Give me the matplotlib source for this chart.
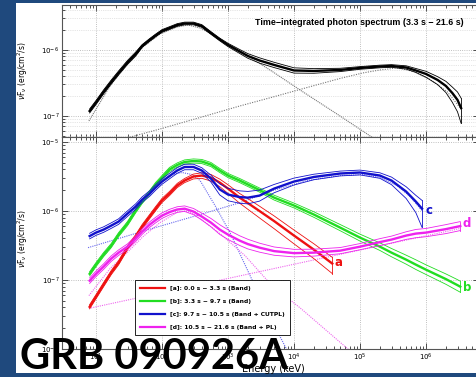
'''
GRB 090926A - nuFnu spectra (time integrated + time resolved)
'''

# imports
import numpy as np
import matplotlib
matplotlib.use('Agg')
import matplotlib.pyplot as plt
from matplotlib.patches import Rectangle

# ___Step 1___: values (energy in keV, nuFnu in erg/cm2/s)

# top panel: time-integrated fit
e_int = [8, 10, 13, 17, 22, 30, 40, 50, 65, 80, 100, 130, 170, 220, 300, 400, 550, 750,
         1e3, 1.5e3, 2e3, 3e3, 5e3, 1e4, 2e4, 5e4, 1e5, 2e5, 3e5, 5e5, 7e5,
         1e6, 1.5e6, 2e6, 2.5e6, 3e6, 3.4e6]
f_int = [1.19e-7, 1.60e-7, 2.31e-7, 3.27e-7, 4.49e-7, 6.47e-7, 8.69e-7, 1.15e-6, 1.42e-6,
         1.66e-6, 1.94e-6, 2.15e-6, 2.39e-6, 2.52e-6, 2.52e-6, 2.31e-6, 1.81e-6, 1.44e-6,
         1.19e-6, 9.49e-7, 8.11e-7, 6.93e-7, 5.93e-7, 4.89e-7, 4.81e-7, 4.98e-7, 5.34e-7,
         5.62e-7, 5.72e-7, 5.43e-7, 4.89e-7, 4.33e-7, 3.51e-7, 2.85e-7, 2.23e-7, 1.75e-7, 1.32e-7]
# width of the error contour (dex above / below)
int_hi = [0.03]*7 + [0.02]*11 + [0.025, 0.03, 0.035, 0.04, 0.04, 0.04, 0.035, 0.025, 0.02,
          0.02, 0.02, 0.025, 0.03, 0.04, 0.05, 0.07, 0.09, 0.12, 0.15]
int_lo = [0.03]*7 + [0.02]*11 + [0.025, 0.03, 0.035, 0.04, 0.04, 0.04, 0.035, 0.025, 0.02,
          0.02, 0.02, 0.025, 0.03, 0.05, 0.07, 0.1, 0.14, 0.18, 0.23]

# components of the time-integrated fit
int_band_e = [7.8, 16.3, 29.5, 51.5, 93.3, 169, 248, 377, 681, 1000, 1520, 4810, 1.23e4,
              4.97e4, 1.42e5, 2.39e5]
int_band_f = [8.4e-8, 2.85e-7, 6.14e-7, 1.11e-6, 1.75e-6, 2.23e-6, 2.39e-6, 2.15e-6, 1.57e-6,
              1.23e-6, 9.66e-7, 4.64e-7, 2.48e-7, 1.0e-7, 4.98e-8, 3.5e-8]
int_pl_e = [27.5, 93.3, 377, 1520, 4810, 1.23e4, 4.97e4, 1.11e5, 2.01e5, 3.64e5, 6.58e5,
            1.15e6, 2.08e6, 3.39e6]
int_pl_f = [4.56e-8, 6.35e-8, 9.48e-8, 1.42e-7, 1.94e-7, 2.52e-7, 3.70e-7, 4.49e-7, 4.98e-7,
            5.34e-7, 4.72e-7, 3.57e-7, 2.35e-7, 1.28e-7]

# bottom panel: time-resolved fits
e_base = [8, 10, 13, 17, 22, 30, 40, 50, 65, 80, 100, 130, 170, 220, 300, 400, 550, 750,
          1e3, 1.5e3, 2e3, 3e3, 5e3, 1e4, 2e4]

# [a] 0.0 s - 3.3 s (Band)
e_a = e_base + [3.8e4]
f_a = [4.09e-8, 5.73e-8, 8.55e-8, 1.28e-7, 1.78e-7, 2.94e-7, 4.25e-7, 5.94e-7, 8.30e-7,
       1.08e-6, 1.42e-6, 1.79e-6, 2.34e-6, 2.76e-6, 3.16e-6, 3.26e-6, 3.05e-6, 2.58e-6,
       2.11e-6, 1.56e-6, 1.30e-6, 9.98e-7, 7.13e-7, 4.40e-7, 2.75e-7, 1.73e-7]
a_hi = [0.03]*14 + [0.035, 0.04, 0.045, 0.05, 0.055, 0.06, 0.065, 0.07, 0.075, 0.08, 0.085, 0.09]
a_lo = [0.03]*14 + [0.035, 0.04, 0.05, 0.06, 0.07, 0.08, 0.09, 0.1, 0.11, 0.12, 0.13, 0.145]

# [b] 3.3 s - 9.7 s (Band)
e_b = e_base + [5e4, 1e5, 2e5, 3e5, 5e5, 7e5, 1e6, 2e6, 3e6, 3.3e6]
f_b = [1.23e-7, 1.67e-7, 2.33e-7, 3.15e-7, 4.54e-7, 6.56e-7, 1.01e-6, 1.37e-6, 1.85e-6,
       2.42e-6, 3.05e-6, 3.99e-6, 4.64e-6, 5.13e-6, 5.30e-6, 5.21e-6, 4.71e-6, 3.86e-6,
       3.26e-6, 2.76e-6, 2.42e-6, 2.01e-6, 1.56e-6, 1.20e-6, 8.87e-7, 5.74e-7, 4.11e-7,
       3.04e-7, 2.49e-7, 1.97e-7, 1.67e-7, 1.41e-7, 1.03e-7, 8.41e-8, 8.0e-8]
b_err = [0.03]*21 + [0.03, 0.035, 0.035, 0.04, 0.045, 0.05, 0.055, 0.06, 0.065, 0.07, 0.07,
                     0.075, 0.08, 0.08]

# [c] 9.7 s - 10.5 s (Band + CUTPL)
e_c = e_base[:24] + [2e4, 5e4, 1e5, 2e5, 3e5, 5e5, 7e5, 8.7e5]
f_c = [4.33e-7, 4.86e-7, 5.37e-7, 6.14e-7, 7.02e-7, 9.16e-7, 1.16e-6, 1.46e-6, 1.79e-6,
       2.19e-6, 2.67e-6, 3.21e-6, 3.86e-6, 4.34e-6, 4.34e-6, 3.86e-6, 2.95e-6, 2.05e-6,
       1.73e-6, 1.59e-6, 1.56e-6, 1.67e-6, 2.11e-6, 2.67e-6, 3.11e-6, 3.49e-6, 3.61e-6,
       3.26e-6, 2.76e-6, 1.91e-6, 1.37e-6, 1.08e-6]
c_hi = [0.04]*16 + [0.05, 0.08, 0.09, 0.09, 0.09, 0.08, 0.06, 0.05, 0.04, 0.035, 0.035,
                    0.04, 0.05, 0.07, 0.09, 0.12]
c_lo = [0.04]*16 + [0.05, 0.08, 0.09, 0.09, 0.09, 0.08, 0.06, 0.05, 0.04, 0.035, 0.035,
                    0.04, 0.06, 0.1, 0.16, 0.27]
c_band_e = [8.7, 16.3, 29.5, 51.5, 93.3, 142, 201, 285, 377, 635, 1072, 3640, 8690]
c_band_f = [1.46e-7, 2.85e-7, 6.79e-7, 1.51e-6, 2.58e-6, 3.37e-6, 3.61e-6, 3.37e-6, 2.76e-6,
            1.20e-6, 4.86e-7, 3.96e-8, 7.98e-9]
c_pl_e = [7.57, 65.8, 377, 1520, 4810, 1.57e4, 4.97e4, 1.11e5, 2.01e5, 3.64e5, 5.73e5, 8.7e5]
c_pl_f = [2.94e-7, 5.46e-7, 8.87e-7, 1.32e-6, 1.98e-6, 2.76e-6, 3.26e-6, 3.37e-6, 3.05e-6,
          2.34e-6, 1.62e-6, 1.01e-6]

# [d] 10.5 s - 21.6 s (Band + PL)
e_d = e_base + [5e4, 1e5, 2e5, 3e5, 5e5, 7e5, 1e6, 2e6, 3.3e6]
f_d = [9.77e-8, 1.23e-7, 1.56e-7, 2.04e-7, 2.49e-7, 3.04e-7, 3.97e-7, 5.02e-7, 6.35e-7,
       7.38e-7, 8.57e-7, 9.64e-7, 1.05e-6, 1.08e-6, 9.80e-7, 8.30e-7, 6.79e-7, 5.37e-7,
       4.54e-7, 3.72e-7, 3.31e-7, 2.94e-7, 2.62e-7, 2.45e-7, 2.49e-7, 2.66e-7, 3.04e-7,
       3.54e-7, 3.85e-7, 4.40e-7, 4.70e-7, 4.86e-7, 5.46e-7, 6.04e-7]
d_err = [0.04]*14 + [0.045, 0.05, 0.06, 0.07, 0.07, 0.07, 0.07, 0.065, 0.06, 0.055, 0.05,
                     0.045, 0.045, 0.05, 0.05, 0.055, 0.06, 0.06, 0.065, 0.065]
d_band_e = [7.8, 16.3, 29.5, 51.5, 93.3, 169, 223, 295, 377, 757, 1810, 4640, 1.23e4, 7.05e4]
d_band_f = [5.94e-8, 1.46e-7, 2.49e-7, 4.25e-7, 6.79e-7, 9.48e-7, 1.01e-6, 9.16e-7, 7.76e-7,
            4.70e-7, 2.25e-7, 8.26e-8, 3.96e-8, 9.42e-9]
d_pl_e = [7.8, 6140, 3.27e6]
d_pl_f = [3.88e-8, 1.53e-7, 5.57e-7]

labels = ['[a]: 0.0 s \u2212 3.3 s (Band)',
          '[b]: 3.3 s \u2212 9.7 s (Band)',
          '[c]: 9.7 s \u2212 10.5 s (Band + CUTPL)',
          '[d]: 10.5 s \u2212 21.6 s (Band + PL)']
colors = ['#ee1111', '#22dd22', '#1111cc', '#ee22ee']
dot_colors = ['#ee5555', '#55dd55', '#6666ee', '#ee66ee']

# ___Step 2___: figure with the dark blue slide border
fig = plt.figure(figsize=(4.77, 3.77), dpi=100, facecolor='#1f497d')
fig.add_artist(Rectangle((16/477, 4/377), 1, 370/377, transform=fig.transFigure,
                         facecolor='white', edgecolor='none', zorder=-1))

ax1 = fig.add_axes([62/477, 240/377, 417/477, 132/377])
ax2 = fig.add_axes([62/477, 28/377, 417/477, 212/377])

xlim = (3.05, 6.35e6)


def style(ax):
    ax.set_xscale('log')
    ax.set_yscale('log')
    ax.set_xlim(xlim)
    ax.tick_params(which='both', direction='in', top=True, right=True, labelsize=5,
                   color='#333333', width=0.6, pad=2)
    ax.tick_params(which='major', length=4)
    ax.tick_params(which='minor', length=2)
    ax.grid(True, which='major', ls=':', lw=0.6, color='#aaaaaa')
    for s in ax.spines.values():
        s.set_color('#555555')
        s.set_linewidth(0.8)


def butterfly(ax, e, f, dhi, dlo, color, label=None):
    f = np.array(f)
    up = f * 10**np.array(dhi)
    dn = f / 10**np.array(dlo)
    line, = ax.plot(e, f, color=color, lw=1.7, label=label)
    ax.plot(e, up, color=color, lw=0.6)
    ax.plot(e, dn, color=color, lw=0.6)
    ax.plot([e[-1], e[-1]], [dn[-1], up[-1]], color=color, lw=0.6)
    return line


# ___Step 3___: top panel
style(ax1)
ax1.set_ylim(4.8e-8, 4.8e-6)
ax1.grid(True, which='minor', axis='y', ls=':', lw=0.5, color='#cccccc')
ax1.tick_params(labelbottom=False)
ax1.plot(int_band_e, int_band_f, color='#777777', lw=0.8, ls=(0, (1, 0.8)))
ax1.plot(int_pl_e, int_pl_f, color='#777777', lw=0.8, ls=(0, (1, 1.2)))
butterfly(ax1, e_int, f_int, int_hi, int_lo, 'black')
ax1.text(0.712, 0.871, 'Time\u2212integrated photon spectrum (3.3 s \u2212 21.6 s)',
         transform=ax1.transAxes, ha='center', va='center', fontsize=6.4,
         fontweight='bold', family='Liberation Sans')
ax1.set_ylabel(r'$\nu$F$_\nu$ (erg/cm$^2$/s)', fontsize=5.5)
ax1.yaxis.set_label_coords(-0.077, 0.5)

# ___Step 4___: bottom panel
style(ax2)
ax2.set_ylim(1e-8, 1.18e-5)
ax2.plot(c_band_e, c_band_f, color=dot_colors[2], lw=0.8, ls=(0, (1, 1)))
ax2.plot(c_pl_e, c_pl_f, color=dot_colors[2], lw=0.8, ls=(0, (1, 1)))
ax2.plot(d_band_e, d_band_f, color=dot_colors[3], lw=0.8, ls=(0, (1, 1)))
ax2.plot(d_pl_e, d_pl_f, color=dot_colors[3], lw=0.8, ls=(0, (1, 1)))

handles = []
handles.append(butterfly(ax2, e_a, f_a, a_hi, a_lo, colors[0], labels[0]))
handles.append(butterfly(ax2, e_b, f_b, b_err, b_err, colors[1], labels[1]))
handles.append(butterfly(ax2, e_c, f_c, c_hi, c_lo, colors[2], labels[2]))
handles.append(butterfly(ax2, e_d, f_d, d_err, d_err, colors[3], labels[3]))

for txt, xe, yf, c in zip('abcd', [4.64e4, 4.18e6, 1.11e6, 4.18e6],
                          [1.78e-7, 7.73e-8, 1.01e-6, 6.56e-7], colors):
    ax2.text(xe, yf, txt, color=c, fontsize=8.5, fontweight='bold', ha='center', va='center')

leg = ax2.legend(handles=handles, loc='lower left', bbox_to_anchor=(0.175, 0.066),
                 prop={'size': 4.3, 'weight': 'bold'}, frameon=True, fancybox=False,
                 edgecolor='black', framealpha=1, handlelength=4.2, labelspacing=1.3,
                 borderpad=0.9, handletextpad=0.8, borderaxespad=0)
leg.get_frame().set_linewidth(0.6)
for h in leg.get_lines():
    h.set_linewidth(1.6)

ax2.set_ylabel(r'$\nu$F$_\nu$ (erg/cm$^2$/s)', fontsize=5.5)
ax2.yaxis.set_label_coords(-0.077, 0.52)
ax2.set_xlabel('Energy (keV)', fontsize=7)
ax2.xaxis.set_label_coords(0.506, -0.071)

# ___Step 5___: big burst name
fig.text(20/477, 8/377, 'GRB 090926A', fontsize=30, fontweight='bold', family='Lato',
         va='baseline', ha='left', color='black')

fig.savefig('out.png', dpi=100, facecolor=fig.get_facecolor())
